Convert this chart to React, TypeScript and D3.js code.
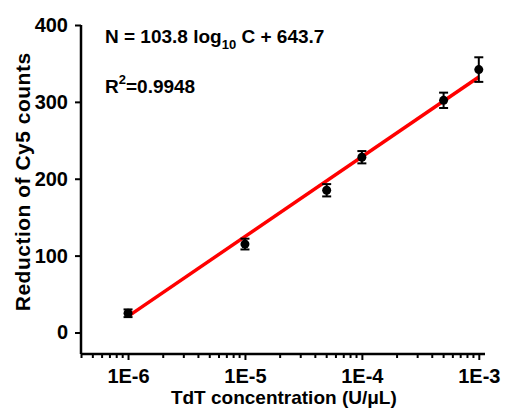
import React, { useRef, useEffect } from 'react';
import { select, scaleLog, scaleLinear, axisBottom, axisLeft, line, range } from 'd3';

const width = 506;
const height = 410;
const margin = { left: 81, right: 21, top: 25, bottom: 56 };

// TdT concentration (U/uL) and reduction of Cy5 counts
const concentrations = [1e-6, 1e-5, 5e-5, 1e-4, 5e-4, 1e-3];
const reductions = [25, 115, 185, 228, 302, 342];
const errors = [5, 7, 8, 8, 10, 16];

const xTicks = [1e-6, 1e-5, 1e-4, 1e-3];
const xTickLabels = ['1E-6', '1E-5', '1E-4', '1E-3'];
const yTicks = [0, 100, 200, 300, 400];

// fit: N = 103.8 log10 C + 643.7
const slope = 103.8;
const intercept = 643.7;
const fitRange = [1e-6, 1e-3];

const font = "'Liberation Sans', Arial, sans-serif";

const App = () => {
    const d3svg = useRef(null);

    useEffect(() => {
        const svg = select(d3svg.current);
        svg.selectAll('*').remove();

        const innerW = width - margin.left - margin.right;
        const innerH = height - margin.top - margin.bottom;

        const x = scaleLog().domain([3.96e-7, 1.13e-3]).range([0, innerW]);
        const y = scaleLinear().domain([-28, 400]).range([innerH, 0]);

        const g = svg.append('g')
            .attr('transform', `translate(${margin.left}, ${margin.top})`);

        // minor ticks on the log axis
        const minor = [];
        for (let e = -7; e <= -3; e++) {
            range(2, 10).forEach(m => {
                const v = m * Math.pow(10, e);
                if (v >= 3.96e-7 && v <= 1.13e-3) minor.push(v);
            });
        }

        const xAxis = g.append('g')
            .attr('transform', `translate(0, ${innerH})`)
            .call(axisBottom(x).tickValues(xTicks).tickFormat((d, i) => xTickLabels[i]).tickSize(6).tickSizeOuter(0).tickPadding(9));

        xAxis.select('.domain').attr('stroke-width', 2.5).attr('d', `M0,0H${innerW}`);

        xAxis.selectAll('.minor')
            .data(minor)
            .join('line')
            .attr('class', 'minor')
            .attr('x1', d => x(d))
            .attr('x2', d => x(d))
            .attr('y1', 0)
            .attr('y2', 4)
            .attr('stroke', '#000')
            .attr('stroke-width', 2);

        const yAxis = g.append('g')
            .call(axisLeft(y).tickValues(yTicks).tickSize(6).tickSizeOuter(0).tickPadding(7));

        yAxis.select('.domain').attr('stroke-width', 2.5).attr('d', `M0,${innerH}V${y(400)}`);

        svg.selectAll('.tick line').attr('stroke-width', 2);
        svg.selectAll('.tick text')
            .style('font-family', font)
            .style('font-weight', 'bold')
            .style('font-size', '20px')
            .attr('fill', '#000');

        // fitted line
        const fitLine = line()
            .x(d => x(d))
            .y(d => y(slope * Math.log10(d) + intercept));

        g.append('path')
            .datum(fitRange)
            .attr('d', fitLine)
            .attr('fill', 'none')
            .attr('stroke', '#ff0000')
            .attr('stroke-width', 3.5);

        // error bars + points
        const pts = g.selectAll('.pt')
            .data(concentrations.map((c, i) => ({ c, v: reductions[i], e: errors[i] })))
            .join('g')
            .attr('class', 'pt');

        pts.append('line')
            .attr('x1', d => x(d.c)).attr('x2', d => x(d.c))
            .attr('y1', d => y(d.v + d.e)).attr('y2', d => y(d.v - d.e))
            .attr('stroke', '#000').attr('stroke-width', 2);

        [1, -1].forEach(s => {
            pts.append('line')
                .attr('x1', d => x(d.c) - 4.5).attr('x2', d => x(d.c) + 4.5)
                .attr('y1', d => y(d.v + s * d.e)).attr('y2', d => y(d.v + s * d.e))
                .attr('stroke', '#000').attr('stroke-width', 2);
        });

        pts.append('circle')
            .attr('cx', d => x(d.c))
            .attr('cy', d => y(d.v))
            .attr('r', 4.5)
            .attr('fill', '#000');

        // equation
        const eq = svg.append('text')
            .attr('x', 105)
            .attr('y', 43)
            .style('font-family', font)
            .style('font-weight', 'bold')
            .style('font-size', '19px');
        eq.append('tspan').text('N = 103.8 log');
        eq.append('tspan').attr('dy', 6).style('font-size', '13px').text('10');
        eq.append('tspan').attr('dy', -6).text(' C + 643.7');

        const r2 = svg.append('text')
            .attr('x', 105)
            .attr('y', 93)
            .style('font-family', font)
            .style('font-weight', 'bold')
            .style('font-size', '19px');
        r2.append('tspan').text('R');
        r2.append('tspan').attr('dy', -9).style('font-size', '13px').text('2');
        r2.append('tspan').attr('dy', 9).text('=0.9948');

        // axis titles
        svg.append('text')
            .attr('x', margin.left + x(2.15e-5))
            .attr('y', 404)
            .attr('text-anchor', 'middle')
            .style('font-family', font)
            .style('font-weight', 'bold')
            .style('font-size', '19px')
            .text('TdT concentration (U/\u03bcL)');

        svg.append('text')
            .attr('transform', `translate(30, ${margin.top + y(196)}) rotate(-90)`)
            .attr('text-anchor', 'middle')
            .style('font-family', font)
            .style('font-weight', 'bold')
            .style('font-size', '21px')
            .style('letter-spacing', '0.5px')
            .text('Reduction of Cy5 counts');
    }, []);

    return (
        <svg
            width={width}
            height={height}
            ref={d3svg}
            style={{ position: 'absolute', left: 0, top: 0, background: '#fff' }}
        ></svg>
    );
};

export default App;
